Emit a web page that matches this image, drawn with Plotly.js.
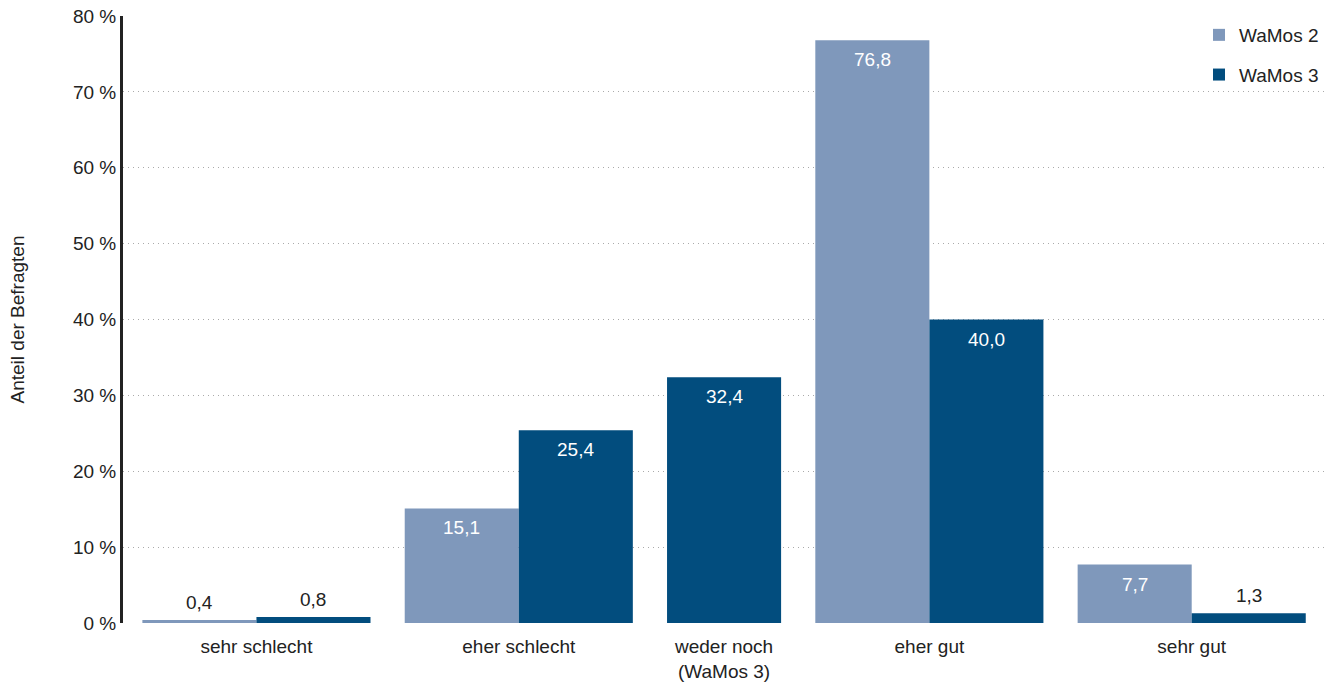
<!DOCTYPE html>
<html>
<head>
<meta charset="utf-8">
<script src="https://cdn.plot.ly/plotly-3.0.1.min.js"></script>
<style>html,body{margin:0;padding:0;background:#fff;}#chart{width:1341px;height:687px;}</style>
</head>
<body>
<div id="chart"></div>
<script>
// ---- data ----
const categories = ['sehr schlecht', 'eher schlecht', 'weder noch<br>(WaMos 3)', 'eher gut', 'sehr gut'];
const seriesNames = ['WaMos 2', 'WaMos 3'];
const wamos2 = [0.4, 15.1, null, 76.8, 7.7];
const wamos3 = [0.8, 25.4, 32.4, 40.0, 1.3];
const yTicks = [0, 10, 20, 30, 40, 50, 60, 70, 80];

// ---- styling ----
const colors = ['#7f98bb', '#024d7e'];
const FONT = 'Liberation Sans, Arial, sans-serif';
const FS = 19;
const padL = 0.17, padR = 0.16, gap = 0.30; // in bar-width units

// ---- compute bar positions from data (one bar = 1 unit) ----
const series = [wamos2, wamos3];
const xPos = [[], []];
const centers = [];
let cursor = padL;
categories.forEach((c, i) => {
  const present = series.map(s => s[i] !== null && s[i] !== undefined);
  const n = present.filter(Boolean).length;
  centers.push(cursor + n / 2);
  let k = 0;
  series.forEach((s, j) => {
    if (present[j]) { xPos[j].push(cursor + k + 0.5); k++; }
    else xPos[j].push(null);
  });
  cursor += n + gap;
});
const total = cursor - gap + padR;

const fmt = v => v.toFixed(1).replace('.', ',');

const traces = series.map((s, j) => ({
  type: 'bar',
  name: seriesNames[j],
  x: xPos[j],
  y: s,
  width: 1,
  marker: {color: colors[j], line: {width: 0}},
  legendgroup: 'g' + j,
  hoverinfo: 'skip'
}));

const annotations = [];
series.forEach((s, j) => {
  s.forEach((v, i) => {
    if (v === null || v === undefined) return;
    const inside = v >= 5;
    annotations.push({
      x: xPos[j][i], y: v, xref: 'x', yref: 'y',
      text: fmt(v), showarrow: false,
      xanchor: 'center', yanchor: inside ? 'top' : 'bottom',
      yshift: inside ? -7 : 5,
      font: {family: FONT, size: FS, color: inside ? '#ffffff' : '#222222'}
    });
  });
});

const layout = {
  width: 1341, height: 687,
  margin: {l: 123, r: 17, t: 16, b: 64},
  paper_bgcolor: '#ffffff', plot_bgcolor: '#ffffff',
  font: {family: FONT, size: FS, color: '#222222'},
  separators: ', ',
  barmode: 'overlay',
  showlegend: true,
  legend: {
    x: 1, xanchor: 'right', y: 1, yanchor: 'top',
    traceorder: 'grouped', tracegroupgap: 12,
    font: {family: FONT, size: FS, color: '#222222'},
    bgcolor: 'rgba(0,0,0,0)'
  },
  xaxis: {
    range: [0, total],
    tickmode: 'array', tickvals: centers, ticktext: categories,
    showgrid: false, zeroline: false, showline: false, ticks: '',
    ticklabelstandoff: 10,
    fixedrange: true, tickfont: {family: FONT, size: FS, color: '#222222'}
  },
  yaxis: {
    range: [0, 80],
    tickmode: 'array', tickvals: yTicks, ticktext: yTicks.map(t => t + ' %'),
    showgrid: true, gridcolor: '#aaaaaa', griddash: '1px,4px', gridwidth: 1,
    zeroline: false, showline: true, linecolor: '#222222', linewidth: 3,
    ticks: '', ticklabelstandoff: 0,
    title: {text: 'Anteil der Befragten', standoff: 44, font: {family: FONT, size: FS, color: '#222222'}},
    fixedrange: true, tickfont: {family: FONT, size: FS, color: '#222222'}
  },
  annotations: annotations
};

Plotly.newPlot('chart', traces, layout, {displayModeBar: false, staticPlot: true});
</script>
</body>
</html>
